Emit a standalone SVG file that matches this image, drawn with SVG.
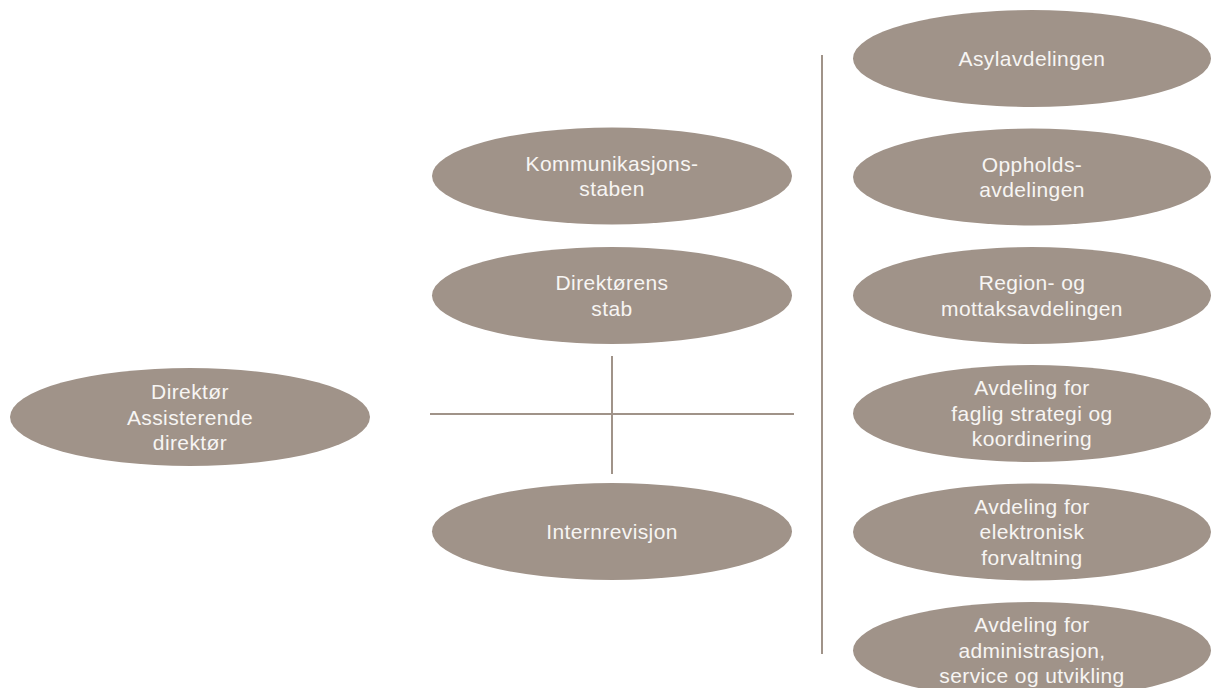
<svg xmlns="http://www.w3.org/2000/svg" width="1211" height="688" viewBox="0 0 1211 688">
<style>
.n ellipse{fill:#a09389;}
.n text{fill:#f7f5f3;font-family:"Liberation Sans",Arial,sans-serif;font-size:21px;letter-spacing:0.4px;text-anchor:middle;}
.c line{stroke:#a09389;stroke-width:2;}
</style>
<rect width="1211" height="688" fill="#ffffff"/>
<g class="c" id="connectors">
<line x1="430" y1="414" x2="794" y2="414"/>
<line x1="612" y1="356" x2="612" y2="474"/>
<line x1="822" y1="55" x2="822" y2="654"/>
</g>
<g class="n" id="direktor">
<ellipse cx="190" cy="417" rx="180" ry="49"/>
<text x="190" y="399">Direktør</text>
<text x="190" y="424.5">Assisterende</text>
<text x="190" y="450">direktør</text>
</g>
<g class="n" id="kommunikasjonsstaben">
<ellipse cx="612" cy="176" rx="180" ry="48.5"/>
<text x="612" y="170.5">Kommunikasjons-</text>
<text x="612" y="196">staben</text>
</g>
<g class="n" id="direktorens-stab">
<ellipse cx="612" cy="295.5" rx="180" ry="48.5"/>
<text x="612" y="290">Direktørens</text>
<text x="612" y="315.5">stab</text>
</g>
<g class="n" id="internrevisjon">
<ellipse cx="612" cy="531.5" rx="180" ry="48.5"/>
<text x="612" y="538.5">Internrevisjon</text>
</g>
<g class="n" id="asylavdelingen">
<ellipse cx="1032" cy="58.5" rx="179" ry="48.5"/>
<text x="1032" y="65.5">Asylavdelingen</text>
</g>
<g class="n" id="oppholdsavdelingen">
<ellipse cx="1032" cy="177" rx="179" ry="48.5"/>
<text x="1032" y="171.5">Oppholds-</text>
<text x="1032" y="197">avdelingen</text>
</g>
<g class="n" id="region-og-mottaksavdelingen">
<ellipse cx="1032" cy="295.5" rx="179" ry="48.5"/>
<text x="1032" y="290">Region- og</text>
<text x="1032" y="315.5">mottaksavdelingen</text>
</g>
<g class="n" id="faglig-strategi">
<ellipse cx="1032" cy="413.5" rx="179" ry="48.5"/>
<text x="1032" y="395">Avdeling for</text>
<text x="1032" y="420.5">faglig strategi og</text>
<text x="1032" y="446">koordinering</text>
</g>
<g class="n" id="elektronisk-forvaltning">
<ellipse cx="1032" cy="532" rx="179" ry="48.5"/>
<text x="1032" y="513.5">Avdeling for</text>
<text x="1032" y="539">elektronisk</text>
<text x="1032" y="564.5">forvaltning</text>
</g>
<g class="n" id="administrasjon">
<ellipse cx="1032" cy="650.5" rx="179" ry="48.5"/>
<text x="1032" y="632">Avdeling for</text>
<text x="1032" y="657.5">administrasjon,</text>
<text x="1032" y="683">service og utvikling</text>
</g>
</svg>
